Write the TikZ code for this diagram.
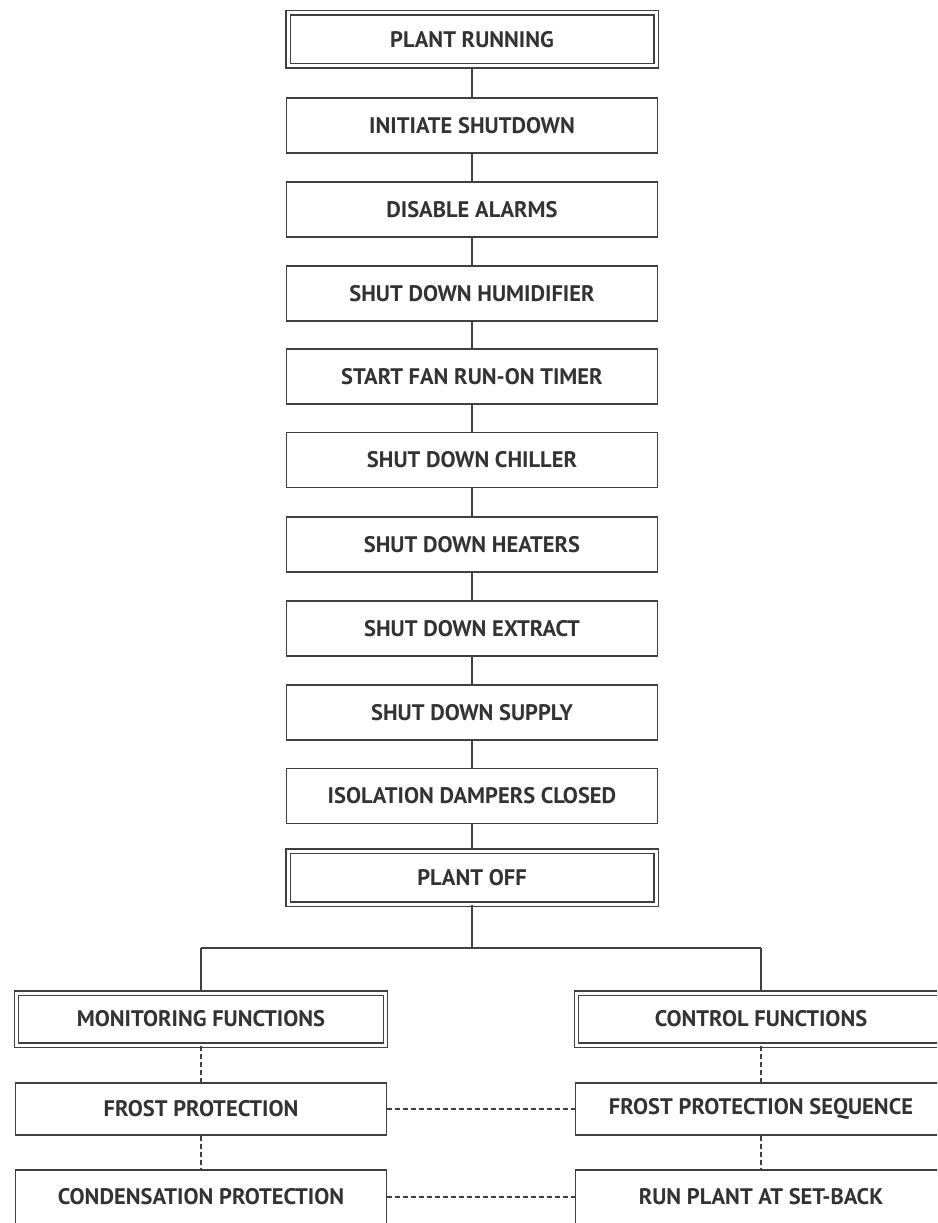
\documentclass[tikz,border=0pt]{standalone}
\usepackage{fontspec}
\setmainfont{PT Sans}
\begin{document}
\begin{tikzpicture}[x=1pt,y=-1pt,
  ln/.style={draw=black!75, line width=1.5pt},
  box/.style={ln, fill=white, minimum width=371pt, minimum height=55pt, inner sep=0pt,
    font=\fontsize{22.5}{24}\selectfont\bfseries, text=black!80},
  dbox/.style={box, double=white, double distance=3pt, line width=1.4pt, minimum width=368pt, minimum height=53pt},
  conn/.style={ln},
  dconn/.style={ln, dash pattern=on 5pt off 3pt}]
\useasboundingbox (0,0) rectangle (937,1223);
\clip (0,0) rectangle (937,1223);
\node[dbox] (run) at (472,39.5) {PLANT RUNNING};
\node[box] (init) at (472,125.5) {INITIATE SHUTDOWN};
\node[box] (alarm) at (472,209.5) {DISABLE ALARMS};
\node[box] (humid) at (472,293.5) {SHUT DOWN HUMIDIFIER};
\node[box] (fan) at (472,376.5) {START FAN RUN-ON TIMER};
\node[box] (chill) at (472,460) {SHUT DOWN CHILLER};
\node[box] (heat) at (472,544.5) {SHUT DOWN HEATERS};
\node[box] (extr) at (472,628.5) {SHUT DOWN EXTRACT};
\node[box] (supp) at (472,712.5) {SHUT DOWN SUPPLY};
\node[box] (iso) at (472,796) {ISOLATION DAMPERS CLOSED};
\node[dbox] (off) at (472,877.5) {PLANT OFF};
\coordinate (busL) at (201,948);
\coordinate (busR) at (761,948);
\coordinate (busM) at (off.south |- busL);
\node[dbox, minimum width=369pt, minimum height=52pt] (mon) at (201,1019) {MONITORING FUNCTIONS};
\node[box, minimum height=52pt] (frost) at (201,1109) {FROST PROTECTION};
\node[box, minimum height=54pt] (cond) at (201,1197) {CONDENSATION PROTECTION};
\node[dbox, minimum width=369pt, minimum height=52pt] (ctrl) at (761,1019) {CONTROL FUNCTIONS};
\node[box, minimum height=52pt] (fseq) at (761,1109) {FROST PROTECTION SEQUENCE};
\node[box, minimum height=54pt] (setb) at (761,1197) {RUN PLANT AT SET-BACK};
\draw[conn] (run) -- (init);
\draw[conn] (init) -- (alarm);
\draw[conn] (alarm) -- (humid);
\draw[conn] (humid) -- (fan);
\draw[conn] (fan) -- (chill);
\draw[conn] (chill) -- (heat);
\draw[conn] (heat) -- (extr);
\draw[conn] (extr) -- (supp);
\draw[conn] (supp) -- (iso);
\draw[conn] (iso) -- (off);
\draw[conn] (off) -- (busM);
\draw[conn] (busL) -- (busR);
\draw[conn] (busL) -- (mon);
\draw[conn] (busR) -- (ctrl);
\draw[dconn] (mon) -- (frost);
\draw[dconn] (frost) -- (cond);
\draw[dconn] (ctrl) -- (fseq);
\draw[dconn] (fseq) -- (setb);
\draw[dconn] (frost) -- (fseq);
\draw[dconn] (cond) -- (setb);
\end{tikzpicture}
\end{document}
